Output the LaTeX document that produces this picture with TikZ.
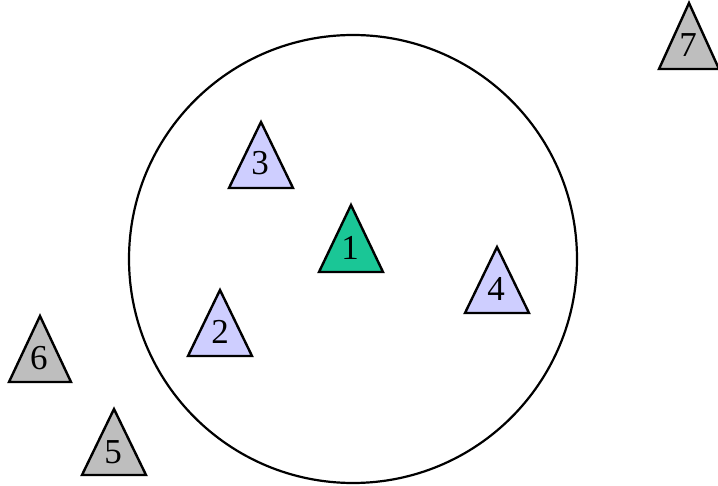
\documentclass[tikz,border=0pt]{standalone}
\usepackage{fontspec}
\setmainfont{Liberation Serif}
\usepackage{tikz}
\definecolor{seagreen}{RGB}{26,198,150}
\definecolor{lavender}{RGB}{206,206,255}
\definecolor{midgray}{RGB}{190,190,190}

\begin{document}
\begin{tikzpicture}[
            x=1pt, y=-1pt,
            tri/.style={draw=black, line width=2.4pt, line join=miter},
            num/.style={anchor=base, inner sep=0pt, font=\fontsize{35}{35}\selectfont}
        ]
            \useasboundingbox (0,0) rectangle (718,486);
            % range circle round node 1
            \draw[line width=2.2pt] (353,259) circle[radius=224];
            % node 1
            \draw[tri, fill=seagreen] (351,205) -- ++(-32,67) -- ++(64,0) -- cycle;
            \node[num] (n1) at (350,260) {1};
            % neighbours inside the circle
            \draw[tri, fill=lavender] (220,290) -- ++(-32,66) -- ++(64,0) -- cycle;
            \node[num] (n2) at (220,344) {2};
            \draw[tri, fill=lavender] (261,122) -- ++(-32,66) -- ++(64,0) -- cycle;
            \node[num] (n3) at (260,175) {3};
            \draw[tri, fill=lavender] (497,247) -- ++(-32,66) -- ++(64,0) -- cycle;
            \node[num] (n4) at (496,301) {4};
            % nodes out of range
            \draw[tri, fill=midgray] (114,409) -- ++(-32,66) -- ++(64,0) -- cycle;
            \node[num] (n5) at (113,463) {5};
            \draw[tri, fill=midgray] (40,316) -- ++(-31,66) -- ++(62,0) -- cycle;
            \node[num] (n6) at (39,370) {6};
            \draw[tri, fill=midgray] (689,3) -- ++(-30,66) -- ++(60,0) -- cycle;
            \node[num] (n7) at (688,57) {7};
        \end{tikzpicture}
\end{document}
